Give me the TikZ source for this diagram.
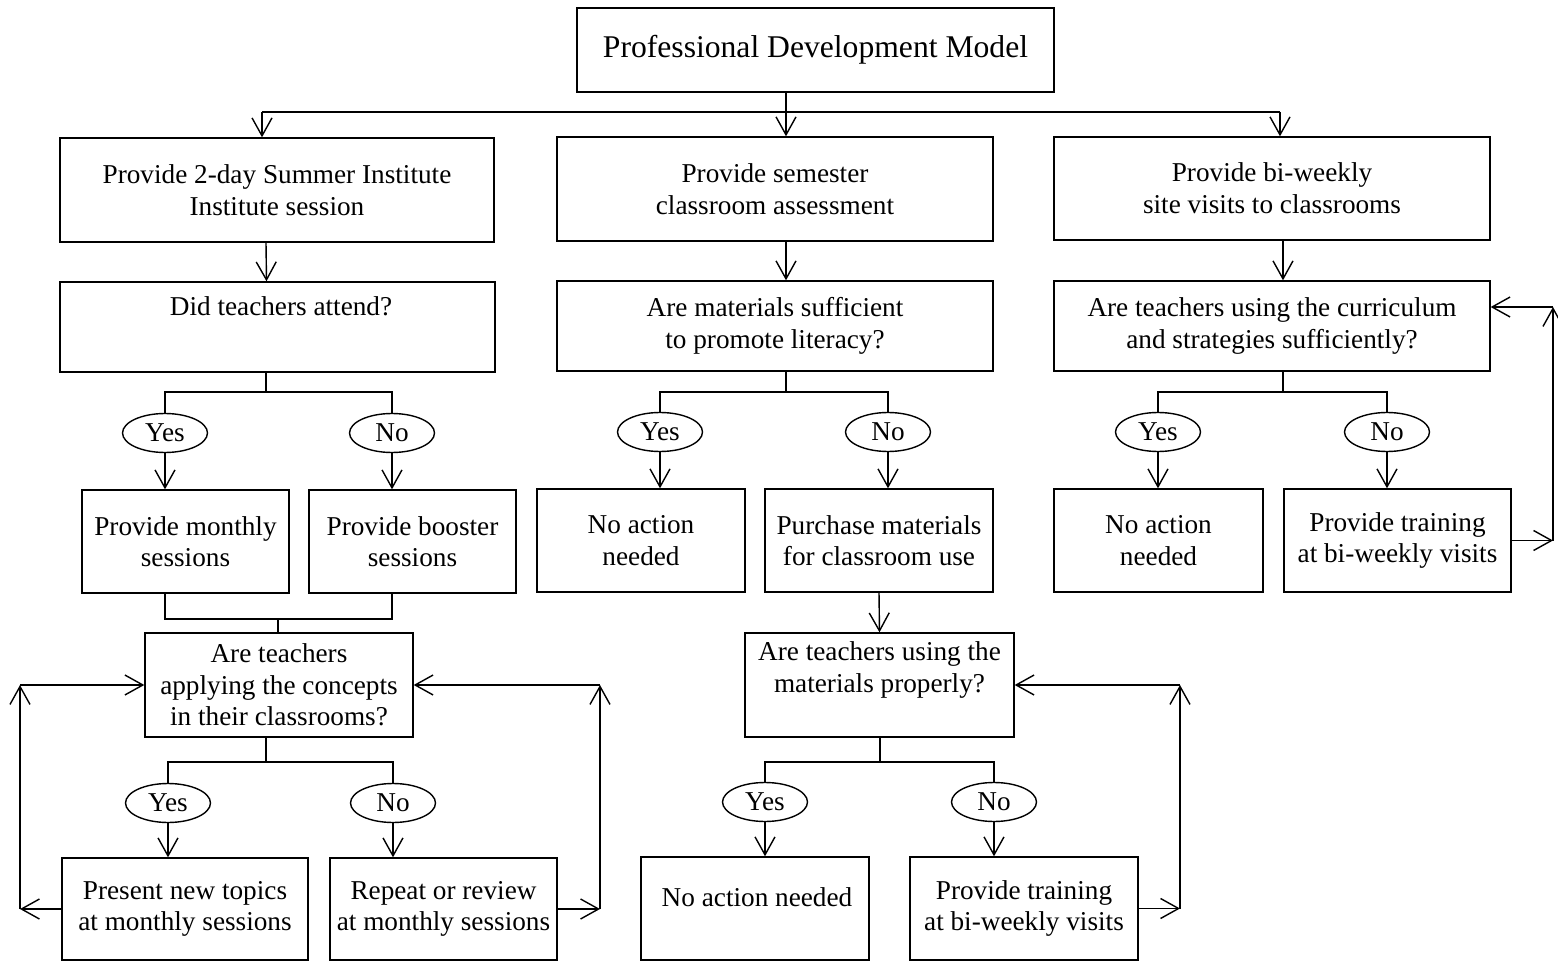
\documentclass[tikz,border=0pt]{standalone}
\usepackage{fontspec}
\setmainfont{Liberation Serif}
\usetikzlibrary{arrows.meta,shapes.geometric,calc}

\begin{document}
\begin{tikzpicture}[x=0.02cm,y=-0.02cm,line width=0.8pt,
  every node/.style={font=\fontsize{15.5}{18}\selectfont,align=center},
  box/.style={draw,rectangle,inner sep=0pt},
  yn/.style={draw,ellipse,inner sep=0pt,minimum width=1.7cm,minimum height=0.78cm},
  arr/.style={-{Straight Barb[length=3.6mm,width=4mm]}}]
\useasboundingbox (0,0) rectangle (1558,962);
\node[box,font=\fontsize{18}{21}\selectfont,minimum width=9.54cm,minimum height=1.68cm] (title) at (815.5,50) {Professional Development Model};
\node[box,minimum width=8.68cm,minimum height=2.08cm] (a1) at (277,190) {Provide 2-day Summer Institute\\Institute session};
\node[box,minimum width=8.72cm,minimum height=2.08cm] (b1) at (775,189) {Provide semester\\classroom assessment};
\node[box,minimum width=8.72cm,minimum height=2.06cm] (c1) at (1272,188.5) {Provide bi-weekly\\site visits to classrooms};
\node[box,minimum width=8.7cm,minimum height=1.8cm] (a2) at (277.5,327) {};
\node (a2t) at (281,306) {Did teachers attend?};
\node[box,minimum width=8.72cm,minimum height=1.8cm] (b2) at (775,326) {Are materials sufficient\\to promote literacy?};
\node[box,minimum width=8.72cm,minimum height=1.8cm] (c2) at (1272,326) {Are teachers using the curriculum\\and strategies sufficiently?};
\node[yn] (ya) at (165,433) {Yes};
\node[yn] (na) at (392,433) {No};
\node[yn] (yb) at (660,432) {Yes};
\node[yn] (nb) at (888,432) {No};
\node[yn] (yc) at (1158,432) {Yes};
\node[yn] (nc) at (1387,432) {No};
\node[box,minimum width=4.14cm,minimum height=2.06cm] (a3y) at (185.5,541.5) {Provide monthly\\sessions};
\node[box,minimum width=4.14cm,minimum height=2.06cm] (a3n) at (412.5,541.5) {Provide booster\\sessions};
\node[box,minimum width=4.16cm,minimum height=2.06cm] (b3y) at (641,540.5) {No action\\needed};
\node[box,minimum width=4.56cm,minimum height=2.06cm] (b3n) at (879,540.5) {Purchase materials\\for classroom use};
\node[box,minimum width=4.18cm,minimum height=2.06cm] (c3y) at (1158.5,540.5) {No action\\needed};
\node[box,minimum width=4.54cm,minimum height=2.06cm] (c3n) at (1397.5,540.5) {Provide training\\at bi-weekly visits};
\node[box,minimum width=5.36cm,minimum height=2.08cm] (a4) at (279,685) {Are teachers\\applying the concepts\\in their classrooms?};
\node[box,minimum width=5.38cm,minimum height=2.08cm] (b4) at (879.5,685) {};
\node (b4t) at (879.5,670) {Are teachers using the\\materials properly?};
\node[yn] (ya2) at (168,803) {Yes};
\node[yn] (na2) at (393,803) {No};
\node[yn] (yb2) at (765,802) {Yes};
\node[yn] (nb2) at (994,802) {No};
\node[box,minimum width=4.92cm,minimum height=2.04cm] (a5y) at (185,909) {Present new topics\\at monthly sessions};
\node[box,minimum width=4.54cm,minimum height=2.04cm] (a5n) at (443.5,909) {Repeat or review\\at monthly sessions};
\node[box,minimum width=4.56cm,minimum height=2.06cm] (b5y) at (755,908.5) {};
\node (b5yt) at (757,897) {No action needed};
\node[box,minimum width=4.56cm,minimum height=2.06cm] (b5n) at (1024,908.5) {Provide training\\at bi-weekly visits};

\coordinate (jl) at (262,112);
\coordinate (jm) at (786,112);
\coordinate (jr) at (1280,112);
\draw (jl) -- (jr);
\draw[arr] (title.south -| jm) -- (jm |- b1.north);
\draw[arr] (jl) -- (jl |- a1.north);
\draw[arr] (jr) -- (jr |- c1.north);
\draw[arr] ($(a1.south)+(-11,0)$) -- ($(a2.north)+(-11,0)$);
\draw[arr] ($(b1.south)+(11,0)$) -- ($(b2.north)+(11,0)$);
\draw[arr] ($(c1.south)+(11,0)$) -- ($(c2.north)+(11,0)$);

\coordinate (abar) at (266,392);
\draw (a2.south -| abar) -- (abar);
\draw (ya.north) |- (abar) -| (na.north);
\draw[arr] (ya.south) -- (ya.south |- a3y.north);
\draw[arr] (na.south) -- (na.south |- a3n.north);
\coordinate (ajoin) at (278,619);
\draw (a3y.south -| ya) |- (ajoin) -| (a3n.south -| na);
\draw (ajoin) -- (ajoin |- a4.north);
\coordinate (abar2) at (266,762);
\draw (a4.south -| abar2) -- (abar2);
\draw (ya2.north) |- (abar2) -| (na2.north);
\draw[arr] (ya2.south) -- (ya2.south |- a5y.north);
\draw[arr] (na2.south) -- (na2.south |- a5n.north);
\coordinate (ll) at (20,685);
\draw[arr] (a5y.west) -- (a5y.west -| ll);
\draw[arr] (a5y.west -| ll) -- (ll);
\draw[arr] (ll) -- (a4.west);
\coordinate (lr) at (600,685);
\draw[arr] (a5n.east) -- (a5n.east -| lr);
\draw[arr] (a5n.east -| lr) -- (lr);
\draw[arr] (lr) -- (a4.east);

\coordinate (bbar) at (786,392);
\draw (b2.south -| bbar) -- (bbar);
\draw (yb.north) |- (bbar) -| (nb.north);
\draw[arr] (yb.south) -- (yb.south |- b3y.north);
\draw[arr] (nb.south) -- (nb.south |- b3n.north);
\draw[arr] (b3n.south) -- (b4.north);
\coordinate (bbar2) at (880,762);
\draw (b4.south -| bbar2) -- (bbar2);
\draw (yb2.north) |- (bbar2) -| (nb2.north);
\draw[arr] (yb2.south) -- (yb2.south |- b5y.north);
\draw[arr] (nb2.south) -- (nb2.south |- b5n.north);
\coordinate (lb) at (1180,685);
\draw[arr] (b5n.east) -- (b5n.east -| lb);
\draw[arr] (b5n.east -| lb) -- (lb);
\draw[arr] (lb) -- (b4.east);

\coordinate (cbar) at (1283,392);
\draw (c2.south -| cbar) -- (cbar);
\draw (yc.north) |- (cbar) -| (nc.north);
\draw[arr] (yc.south) -- (yc.south |- c3y.north);
\draw[arr] (nc.south) -- (nc.south |- c3n.north);
\coordinate (lc) at (1553,307);
\draw[arr] (c3n.east) -- (c3n.east -| lc);
\draw[arr] (c3n.east -| lc) -- (lc);
\draw[arr] (lc) -- (lc -| c2.east);
\end{tikzpicture}
\end{document}
